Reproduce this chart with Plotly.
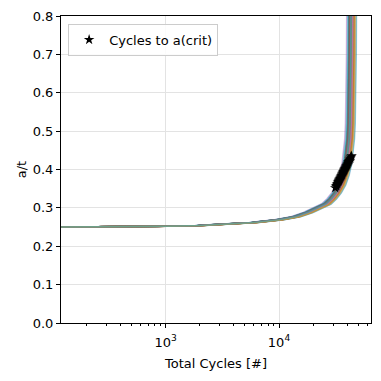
import plotly.graph_objects as go

# Base crack-growth curve (median curve)
base_cycles = [100, 300, 1000, 2000, 4000, 6000, 10000, 14000, 18000, 22000,
               26000, 29000, 32000, 35000, 37500, 39500, 41000, 41800, 42400,
               42800, 43100, 43300, 43450, 43600]
base_at = [0.2500, 0.2505, 0.2520, 0.2540, 0.2580, 0.2620, 0.2690, 0.2770,
           0.2880, 0.2990, 0.3100, 0.3230, 0.3390, 0.3600, 0.3850, 0.4150,
           0.4500, 0.4800, 0.5200, 0.5700, 0.6300, 0.7000, 0.7800, 0.8600]

# Life scatter of the individual Monte Carlo curves (relative to base)
life_factors = [0.97, 1.04, 0.95, 1.03, 0.98, 1.07, 0.92, 1.01, 0.97, 1.10,
                0.96, 1.05, 0.99, 1.02, 0.91, 1.06, 0.96, 1.00, 1.04, 0.94,
                1.11, 0.97, 1.05, 0.99, 1.01, 0.95, 1.08, 0.98, 1.03, 0.93,
                1.02, 1.00, 0.96, 1.04, 0.98, 1.06, 1.02, 0.97, 1.05, 0.99,
                0.95, 1.07, 1.01, 0.98, 1.03, 0.96, 1.03, 1.00, 1.09, 0.99]

# Critical points (cycles, a/t)
crit_cycles = [31370, 31880, 32130, 32520, 32780, 33170, 33440, 33710, 33980,
               34250, 34510, 34790, 35070, 35350, 35640, 35920, 36210, 36500,
               36790, 37080, 37380, 37670, 37970, 38280, 38580, 38890, 39200,
               39510, 39830, 40150, 40470, 40790, 41110, 41600, 42100, 42600,
               43110, 43650]
crit_at = [0.352, 0.356, 0.358, 0.361, 0.363, 0.366, 0.368, 0.370, 0.372,
           0.374, 0.376, 0.378, 0.380, 0.382, 0.384, 0.386, 0.388, 0.390,
           0.392, 0.394, 0.396, 0.398, 0.400, 0.402, 0.404, 0.406, 0.408,
           0.410, 0.412, 0.414, 0.416, 0.418, 0.420, 0.423, 0.426, 0.429,
           0.432, 0.435]

y_ticks = [0.0, 0.1, 0.2, 0.3, 0.4, 0.5, 0.6, 0.7, 0.8]
x_major = [1000, 10000]
x_major_text = ["10<sup>3</sup>", "10<sup>4</sup>"]
x_minor = [200, 300, 400, 500, 600, 700, 800, 900,
           2000, 3000, 4000, 5000, 6000, 7000, 8000, 9000,
           20000, 30000, 40000, 50000, 60000]

colors = ['#1f77b4', '#ff7f0e', '#2ca02c', '#d62728', '#9467bd',
          '#8c564b', '#e377c2', '#7f7f7f', '#bcbd22', '#17becf']

fig = go.Figure()
for i, f in enumerate(life_factors):
    fig.add_trace(go.Scatter(
        x=[c * f for c in base_cycles], y=base_at, mode="lines",
        line=dict(color=colors[i % 10], width=1.5), opacity=0.4,
        showlegend=False, hoverinfo="skip"))

fig.add_trace(go.Scatter(
    x=crit_cycles, y=crit_at, mode="markers", name="Cycles to a(crit)",
    marker=dict(symbol="star", size=8, color="black",
                line=dict(width=0))))

font = dict(family="DejaVu Sans", size=13, color="black")
# the page body adds an 8px offset, so the figure is 8px smaller
fig.update_layout(
    width=373, height=373,
    margin=dict(l=53, r=10, t=8, b=58, autoexpand=False),
    paper_bgcolor="white", plot_bgcolor="white",
    font=font,
    showlegend=True,
    legend=dict(x=0.023, y=0.975, xanchor="left", yanchor="top",
                bgcolor="rgba(255,255,255,0.85)", bordercolor="#cccccc",
                borderwidth=1, font=font),
)
fig.update_xaxes(
    type="log", range=[2.076, 4.812], automargin=False,
    tickmode="array", tickvals=x_major, ticktext=x_major_text,
    ticks="outside", ticklen=4, tickwidth=1, tickcolor="black",
    tickfont=font, ticklabelstandoff=3,
    showline=True, linecolor="black", linewidth=1, mirror=True,
    showgrid=True, gridcolor="#e3e3e3", gridwidth=1,
    minor=dict(tickvals=x_minor, ticks="outside", ticklen=2,
               tickcolor="black", showgrid=False),
    title=dict(text="Total Cycles [#]", standoff=10, font=font),
    zeroline=False,
)
fig.update_yaxes(
    range=[0, 0.8], automargin=False, tickmode="array", tickvals=y_ticks,
    ticktext=[f"{v:.1f}" for v in y_ticks],
    ticks="outside", ticklen=4, tickwidth=1, tickcolor="black",
    tickfont=font,
    showline=True, linecolor="black", linewidth=1, mirror=True,
    showgrid=True, gridcolor="#e3e3e3", gridwidth=1,
    title=dict(text="a/t", standoff=3, font=font),
    zeroline=False,
)
fig.write_html("out.html")
